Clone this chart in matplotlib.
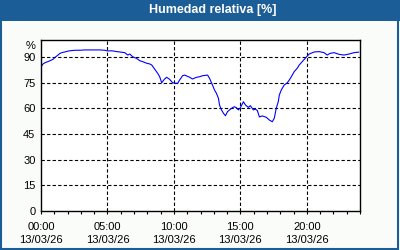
import matplotlib
matplotlib.use("Agg")
import matplotlib.pyplot as plt
from matplotlib.patches import Rectangle

# Datos (hora del dia, humedad %)
horas = [0.0, 0.15, 0.3, 0.53, 0.68, 0.9, 1.05, 1.28, 1.43, 1.65, 1.8, 2.03, 2.18,
         2.55, 2.93, 3.3, 3.68, 4.05, 4.43, 4.8, 4.95, 5.1, 5.33, 5.63, 5.93, 6.3,
         6.53, 6.68, 6.9, 7.2, 7.43, 7.73, 7.95, 8.18, 8.33, 8.55, 8.78, 8.93, 9.08,
         9.3, 9.45, 9.68, 9.9, 10.13, 10.28, 10.43, 10.65, 10.8, 11.18, 11.4, 11.7,
         11.93, 12.15, 12.53, 12.68, 12.9, 13.05, 13.2, 13.35, 13.43, 13.58, 13.73,
         13.88, 14.03, 14.18, 14.4, 14.55, 14.7, 14.85, 15.0, 15.23, 15.38, 15.6,
         15.75, 15.98, 16.13, 16.28, 16.43, 16.65, 16.95, 17.18, 17.4, 17.55, 17.7,
         17.85, 17.93, 18.08, 18.3, 18.53, 18.68, 18.83, 19.05, 19.28, 19.43, 19.65,
         19.88, 20.03, 20.18, 20.55, 20.93, 21.3, 21.53, 21.75, 22.05, 22.43, 22.8,
         23.18, 23.55, 23.9]
humedad = [84.2, 86.0, 86.7, 87.4, 87.9, 88.7, 89.8, 91.2, 92.2, 92.8, 93.0, 93.5, 93.7,
           94.0, 94.0, 94.2, 94.2, 94.2, 94.2, 94.0, 93.7, 93.6, 93.7, 93.3, 93.0, 92.6,
           91.2, 91.8, 90.2, 89.2, 87.9, 87.1, 86.4, 86.0, 85.4, 83.0, 80.5, 78.5, 75.0,
           77.2, 78.2, 77.0, 75.0, 74.7, 74.7, 76.6, 79.1, 79.5, 78.2, 77.2, 78.2,
           78.5, 79.1, 79.5, 77.6, 73.7, 70.8, 68.8, 65.9, 62.0, 59.1, 57.1,
           55.7, 58.1, 59.1, 60.4, 61.0, 60.4, 59.1, 60.4, 63.9, 62.0, 60.6,
           61.6, 59.1, 59.6, 58.7, 55.0, 55.6, 54.8, 53.2, 52.2, 54.2, 60.1,
           63.9, 67.8, 70.8, 73.7, 75.0, 76.6, 78.5, 81.5, 83.5, 85.4, 87.3,
           89.3, 90.6, 91.8, 93.0, 93.2, 92.6, 91.2, 92.2, 92.6, 91.6, 91.2,
           91.8, 92.6, 92.9]

xticks = [0, 5, 10, 15, 20]
xlabels = ["00:00\n13/03/26", "05:00\n13/03/26", "10:00\n13/03/26",
           "15:00\n13/03/26", "20:00\n13/03/26"]
yticks = [0, 15, 30, 45, 60, 75, 90]
titulo = "Humedad relativa [%]"

# Colores
hex_barra = '#1b5e97'
hex_fondo = '#fafcfa'
hex_linea = '#0000ff'

plt.rcParams['font.family'] = ['Liberation Sans', 'DejaVu Sans']

fig = plt.figure(figsize=(4, 2.5), dpi=100)
fig.patch.set_facecolor(hex_fondo)

# Barra de titulo y borde
fig.patches.append(Rectangle((0, 1 - 20.5 / 250), 1, 20.5 / 250, transform=fig.transFigure,
                             facecolor=hex_barra, edgecolor='none', zorder=0))
fig.patches.append(Rectangle((0.5 / 400, 1.5 / 250), 397.5 / 400, 247 / 250, transform=fig.transFigure,
                             facecolor='none', edgecolor=hex_barra, linewidth=1.5, zorder=1))
fig.text(213 / 400, 1 - 10.5 / 250, titulo, color='white', fontweight='bold',
         fontsize=9, ha='center', va='center')

ax = fig.add_axes([41 / 400, 39 / 250, 319 / 400, 171 / 250])
ax.set_facecolor('white')
ax.plot(horas, humedad, color=hex_linea, linewidth=0.8)

ax.set_xlim(0, 24)
ax.set_ylim(0, 100)
ax.set_xticks(xticks)
ax.set_xticklabels(xlabels, fontsize=8, linespacing=1.4)
ax.set_xticks(range(0, 25), minor=True)
ax.set_yticks(yticks)
ax.set_yticklabels([str(v) for v in yticks], fontsize=8)
ax.tick_params(axis='x', which='both', direction='out', length=2.5, width=0.8, pad=5.5)
ax.tick_params(axis='y', length=0, pad=4)

for s in ax.spines.values():
    s.set_color('black')
    s.set_linewidth(1)

# Rejilla punteada
for v in yticks[1:]:
    ax.axhline(v, color='black', linewidth=0.8, linestyle=(0, (3, 2)), zorder=0.5)
for h in xticks[1:]:
    ax.axvline(h, color='black', linewidth=0.8, linestyle=(0, (3, 2)), zorder=0.5)

ax.text(-5 / 319, 0.965, "%", transform=ax.transAxes, ha='right', va='center', fontsize=8)

fig.savefig("out.png", dpi=100, facecolor=fig.get_facecolor())
